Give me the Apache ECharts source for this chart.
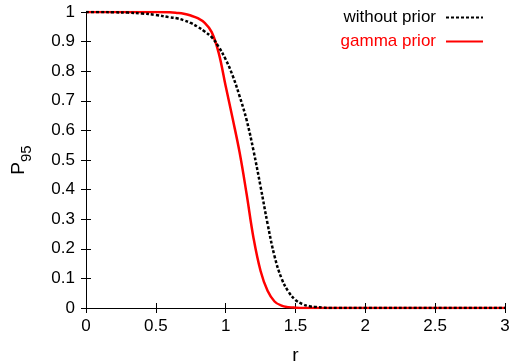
<!DOCTYPE html>
<html>
<head>
<meta charset="utf-8">
<script src="https://cdn.jsdelivr.net/npm/echarts@6/dist/echarts.min.js"></script>
<style>
  html, body { margin: 0; padding: 0; background: #fff; }
  #chart { width: 510px; height: 363px; }
</style>
</head>
<body>
<div id="chart"></div>
<script>
// r values (x axis)
const rValues = [0, 0.1, 0.2, 0.3, 0.4, 0.5, 0.6, 0.65, 0.7, 0.75, 0.8, 0.85, 0.9, 0.95,
  1.0, 1.05, 1.1, 1.15, 1.2, 1.25, 1.3, 1.35, 1.4, 1.45, 1.5, 1.55, 1.6, 1.65, 1.7,
  1.75, 1.8, 2.0, 2.5, 3.0];
// P95 without prior (black dotted)
const withoutPrior = [1, 1, 0.999, 0.998, 0.995, 0.99, 0.982, 0.979, 0.972, 0.963, 0.95,
  0.934, 0.915, 0.882, 0.84, 0.785, 0.715, 0.635, 0.53, 0.41, 0.285, 0.175, 0.1, 0.055,
  0.027, 0.013, 0.006, 0.003, 0.001, 0, 0, 0, 0, 0];
// P95 with gamma prior (red)
const gammaPrior = [1, 1, 1, 1, 1, 1, 0.999, 0.997, 0.994, 0.988, 0.979, 0.963, 0.932,
  0.862, 0.75, 0.64, 0.525, 0.385, 0.235, 0.125, 0.058, 0.022, 0.008, 0.003, 0.001, 0,
  0, 0, 0, 0, 0, 0, 0, 0];

const font = "Liberation Sans, Arial, sans-serif";
const toPairs = (ys) => rValues.map((r, i) => [r, ys[i]]);

const chart = echarts.init(document.getElementById("chart"));

const tickStyle = { inside: true, length: 5, lineStyle: { color: "#000", width: 1 } };
const lineStyle = { show: true, lineStyle: { color: "#000", width: 1 } };

chart.setOption({
  animation: false,
  grid: { left: 86, top: 12, right: 5, bottom: 55, outerBoundsMode: "none" },
  legend: {
    orient: "vertical",
    right: 26,
    top: 9,
    padding: 0,
    align: "right",
    itemWidth: 37,
    itemHeight: 14,
    itemGap: 7,
    itemStyle: { opacity: 0 },
    textStyle: { fontFamily: font, fontSize: 17, padding: [0, 5, 0, 0] },
    data: [
      { name: "without prior", textStyle: { color: "#000" } },
      { name: "gamma prior", textStyle: { color: "#ff0000" } },
    ],
  },
  xAxis: [
    {
      type: "value",
      min: 0,
      max: 3,
      interval: 0.5,
      name: "r",
      nameLocation: "middle",
      nameGap: 38,
      nameTextStyle: { fontFamily: font, fontSize: 19, color: "#000" },
      axisLine: lineStyle,
      axisTick: tickStyle,
      splitLine: { show: false },
      axisLabel: { fontFamily: font, fontSize: 17, color: "#000", margin: 10 },
    },
    {
      type: "value",
      position: "top",
      min: 0,
      max: 3,
      interval: 0.5,
      axisLine: lineStyle,
      axisTick: tickStyle,
      splitLine: { show: false },
      axisLabel: { show: false },
    },
  ],
  yAxis: [
    {
      type: "value",
      min: 0,
      max: 1,
      interval: 0.1,
      name: "{p|P}{s|95}",
      nameLocation: "middle",
      nameRotate: 90,
      nameGap: 58,
      nameTextStyle: {
        color: "#000",
        rich: {
          p: { fontFamily: font, fontSize: 19, color: "#000" },
          s: { fontFamily: font, fontSize: 15, color: "#000", verticalAlign: "bottom", padding: [0, 0, -6, 0] },
        },
      },
      axisLine: lineStyle,
      axisTick: tickStyle,
      splitLine: { show: false },
      axisLabel: { fontFamily: font, fontSize: 17, color: "#000", margin: 11 },
    },
    {
      type: "value",
      position: "right",
      min: 0,
      max: 1,
      interval: 0.1,
      axisLine: lineStyle,
      axisTick: tickStyle,
      splitLine: { show: false },
      axisLabel: { show: false },
    },
  ],
  series: [
    {
      name: "without prior",
      type: "line",
      data: toPairs(withoutPrior),
      symbol: "none",
      smooth: 0.4,
      z: 3,
      lineStyle: { color: "#000", width: 2.5, type: [3, 2] },
      itemStyle: { color: "#000" },
    },
    {
      name: "gamma prior",
      type: "line",
      data: toPairs(gammaPrior),
      symbol: "none",
      smooth: 0.4,
      z: 2,
      lineStyle: { color: "#ff0000", width: 2.5 },
      itemStyle: { color: "#ff0000" },
    },
  ],
});
</script>
</body>
</html>
